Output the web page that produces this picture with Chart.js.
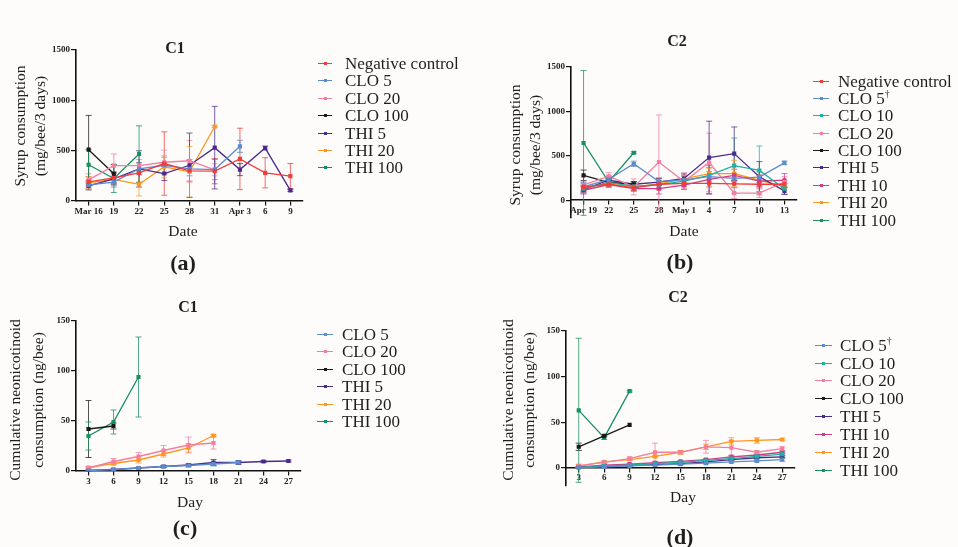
<!DOCTYPE html>
<html>
<head>
<meta charset="utf-8">
<script src="https://cdn.jsdelivr.net/npm/chart.js@4"></script>
<style>
  html, body { margin: 0; padding: 0; background: #fdfcfb; }
  #page { position: relative; width: 958px; height: 547px; overflow: hidden; font-family: "Liberation Serif", serif; color: #1e1e1e; }
  #page canvas { position: absolute; left: 0; top: 0; }
  .t { position: absolute; transform: translate(-50%, -50%); white-space: nowrap; line-height: 1; }
  .yt { position: absolute; transform: translate(-50%, -50%) rotate(-90deg); white-space: nowrap; font-size: 15.5px; line-height: 1; }
  .title { font-weight: bold; font-size: 16px; }
  .axis { font-size: 15.5px; }
  .tag { font-weight: bold; font-size: 22px; }
  .lg-row { position: absolute; height: 0; white-space: nowrap; }
  .lg-line { position: absolute; top: -1px; height: 1px; }
  .lg-dot { position: absolute; top: -2px; width: 3px; height: 3px; }
  .lg-text { position: absolute; top: -9px; font-size: 17px; line-height: 17px; }
  .lg-text sup { font-size: 10px; vertical-align: 0; position: relative; top: -7px; }
</style>
</head>
<body>
<div id="page">
  <canvas id="chartA" width="958" height="547"></canvas>
  <canvas id="chartB" width="958" height="547"></canvas>
  <canvas id="chartC" width="958" height="547"></canvas>
  <canvas id="chartD" width="958" height="547"></canvas>

  <div class="t title" style="left:175px; top:48px;">C1</div>
  <div class="yt" style="left:20px; top:126px;">Syrup consumption</div>
  <div class="yt" style="left:40px; top:126px;">(mg/bee/3 days)</div>
  <div class="t axis" style="left:183px; top:231px;">Date</div>
  <div class="t tag" style="left:183px; top:263px;">(a)</div>

  <div class="t title" style="left:677px; top:41px;">C2</div>
  <div class="yt" style="left:515px; top:145px;">Syrup consumption</div>
  <div class="yt" style="left:535px; top:145px;">(mg/bee/3 days)</div>
  <div class="t axis" style="left:684px; top:231px;">Date</div>
  <div class="t tag" style="left:680px; top:262px;">(b)</div>

  <div class="t title" style="left:188px; top:307px;">C1</div>
  <div class="yt" style="left:15px; top:400px;">Cumulative neonicotinoid</div>
  <div class="yt" style="left:38px; top:400px;">consumption (ng/bee)</div>
  <div class="t axis" style="left:190px; top:502px;">Day</div>
  <div class="t tag" style="left:185px; top:528px;">(c)</div>

  <div class="t title" style="left:678px; top:297px;">C2</div>
  <div class="yt" style="left:508px; top:400px;">Cumulative neonicotinoid</div>
  <div class="yt" style="left:529px; top:400px;">consumption (ng/bee)</div>
  <div class="t axis" style="left:683px; top:497px;">Day</div>
  <div class="t tag" style="left:680px; top:537px;">(d)</div>
</div>
<script>
// x categories and y ticks
const datesC1 = ['Mar 16', '19', '22', '25', '28', '31', 'Apr 3', '6', '9'];
const datesC2 = ['Apr 19', '22', '25', '28', 'May 1', '4', '7', '10', '13'];
const dayLabels = ['3', '6', '9', '12', '15', '18', '21', '24', '27'];
const syrupTicks = [0, 500, 1000, 1500];
const cumulTicks = [0, 50, 100, 150];

// C1 syrup consumption (mg/bee/3 days), mean and sd
const syrupC1Neg = [190, 230, 280, 372, 300, 296, 418, 280, 247];
const syrupC1NegSd = [50, 60, 100, 315, 110, 125, 305, 150, 125];
const syrupC1Clo5 = [160, 188, 320, 355, 320, 312, 543];
const syrupC1Clo5Sd = [40, 50, 60, 80, 70, 100, 60];
const syrupC1Clo20 = [210, 352, 352, 385, 400, 310];
const syrupC1Clo20Sd = [60, 115, 60, 120, 200, 60];
const syrupC1Clo100 = [510, 270];
const syrupC1Clo100Sd = [340, 90];
const syrupC1Thi5 = [150, 220, 319, 273, 355, 530, 312, 526, 105];
const syrupC1Thi5Sd = [40, 60, 180, 70, 320, 410, 60, 20, 10];
const syrupC1Thi20 = [180, 214, 165, 340, 290, 740];
const syrupC1Thi20Sd = [60, 60, 115, 110, 250, 10];
const syrupC1Thi100 = [360, 224, 467];
const syrupC1Thi100Sd = [150, 140, 280];

// C2 syrup consumption
const syrupC2Neg = [150, 180, 140, 180, 190, 190, 185, 180, 180];
const syrupC2NegSd = [40, 30, 30, 40, 40, 40, 40, 40, 40];
const syrupC2Clo5 = [150, 235, 410, 210, 230, 265, 245, 260, 420];
const syrupC2Clo5Sd = [50, 40, 30, 40, 50, 60, 60, 60, 20];
const syrupC2Clo10 = [130, 200, 155, 175, 215, 280, 390, 335, 130];
const syrupC2Clo10Sd = [40, 40, 40, 50, 50, 90, 310, 275, 60];
const syrupC2Clo20 = [170, 270, 150, 430, 210, 425, 80, 80, 205];
const syrupC2Clo20Sd = [50, 40, 90, 530, 80, 330, 60, 50, 60];
const syrupC2Clo100 = [280, 200, 180];
const syrupC2Clo100Sd = [60, 30, 30];
const syrupC2Thi5 = [120, 225, 180, 205, 245, 480, 525, 265, 105];
const syrupC2Thi5Sd = [40, 40, 30, 40, 60, 410, 300, 170, 40];
const syrupC2Thi10 = [110, 175, 130, 130, 170, 235, 280, 215, 225];
const syrupC2Thi10Sd = [40, 30, 30, 60, 50, 160, 70, 60, 75];
const syrupC2Thi20 = [115, 180, 150, 185, 240, 300, 300, 225, 155];
const syrupC2Thi20Sd = [40, 30, 40, 70, 40, 60, 150, 60, 40];
const syrupC2Thi100 = [645, 205, 535];
const syrupC2Thi100Sd = [815, 40, 10];

// C1 cumulative neonicotinoid (ng/bee)
const cumC1Clo5 = [0.5, 1.3, 3, 4.5, 5.5, 7, 8.5];
const cumC1Clo5Sd = [0.3, 0.5, 0.5, 1, 1.5, 2, 2];
const cumC1Clo20 = [3, 9.5, 14.5, 20.5, 26, 28];
const cumC1Clo20Sd = [1, 3, 4, 5, 8, 6];
const cumC1Clo100 = [42, 45];
const cumC1Clo100Sd = [28.5, 3];
const cumC1Thi5 = [0.5, 1.5, 3, 4.5, 6, 8.5, 8.5, 9.5, 10];
const cumC1Thi5Sd = [0.5, 0.5, 0.5, 1, 1, 3, 1.5, 1, 1];
const cumC1Thi20 = [3.5, 7.5, 11, 17, 23, 35.5];
const cumC1Thi20Sd = [1, 1.5, 3, 3, 4, 1];
const cumC1Thi100 = [35, 49, 94];
const cumC1Thi100Sd = [14, 12, 40];

// C2 cumulative neonicotinoid
const cumC2Clo5 = [0.3, 1, 2, 3, 4, 5, 6.5, 7.5, 9];
const cumC2Clo5Sd = [0.3, 0.5, 0.5, 1, 1, 1, 1, 1, 2];
const cumC2Clo10 = [0.5, 2, 3, 4.5, 6, 8, 10, 12.5, 15];
const cumC2Clo10Sd = [0.3, 0.5, 0.5, 1, 1, 1, 1, 1, 1];
const cumC2Clo20 = [2, 6, 10, 17, 17, 23, 22, 17, 21];
const cumC2Clo20Sd = [1, 1, 2, 10, 2, 7, 8, 2, 2];
const cumC2Clo100 = [23, 35, 47];
const cumC2Clo100Sd = [4, 1, 0];
const cumC2Thi5 = [0.5, 1.5, 2.5, 3.5, 4.5, 6.5, 9, 11, 12];
const cumC2Thi5Sd = [0.3, 0.5, 0.5, 1, 1, 1, 1, 1, 1];
const cumC2Thi10 = [1, 3, 4, 5.5, 7, 9, 12, 14, 17];
const cumC2Thi10Sd = [0.5, 0.5, 0.5, 1, 1, 1, 1, 1, 1];
const cumC2Thi20 = [2, 6.5, 9, 12.5, 17, 23, 29, 30, 31];
const cumC2Thi20Sd = [2, 1, 1, 1, 2, 3, 4, 3, 1];
const cumC2Thi100 = [63, 33, 84];
const cumC2Thi100Sd = [79, 2, 1];

const colors = {
  neg: '#f23b3b',
  clo5: '#5b8ccc',
  clo10: '#1fb0a0',
  clo20: '#f47ea0',
  clo100: '#1a1a1a',
  thi5: '#4a2b8c',
  thi10: '#cc3d8a',
  thi20: '#ff961e',
  thi100: '#16915c'
};

const Y_W = 30;
const tickFont = { family: 'Liberation Serif', size: 9, weight: 'bold' };

// vertical sd bars with caps, drawn under the lines
const errorBars = {
  id: 'errorBars',
  beforeDatasetsDraw(chart) {
    const ctx = chart.ctx;
    const y = chart.scales.y;
    chart.data.datasets.forEach((ds, i) => {
      if (!ds.errors) return;
      const meta = chart.getDatasetMeta(i);
      ctx.save();
      ctx.strokeStyle = ds.borderColor;
      ctx.globalAlpha = 0.75;
      ctx.lineWidth = 1;
      meta.data.forEach((pt, j) => {
        const e = ds.errors[j];
        if (!e) return;
        const top = y.getPixelForValue(ds.data[j] + e);
        const bot = y.getPixelForValue(ds.data[j] - e);
        ctx.beginPath();
        ctx.moveTo(pt.x, top); ctx.lineTo(pt.x, bot);
        ctx.moveTo(pt.x - 3, top); ctx.lineTo(pt.x + 3, top);
        ctx.moveTo(pt.x - 3, bot); ctx.lineTo(pt.x + 3, bot);
        ctx.stroke();
      });
      ctx.restore();
    });
  }
};

function series(label, color, data, errors) {
  return {
    label, data, errors,
    borderColor: color, backgroundColor: color,
    borderWidth: 1.3, pointRadius: 2, pointStyle: 'rect', tension: 0
  };
}

function makePanel(id, area, labels, yMin, yMax, yTicks, datasets) {
  return new Chart(document.getElementById(id), {
    type: 'line',
    data: { labels, datasets },
    options: {
      responsive: false,
      animation: false,
      events: [],
      layout: { padding: { left: area.left - Y_W, top: area.top, right: 958 - area.right, bottom: 547 - area.bottom } },
      plugins: { legend: { display: false }, tooltip: { enabled: false } },
      scales: {
        x: {
          type: 'category',
          offset: true,
          position: { y: 0 },
          grid: { offset: false, drawOnChartArea: false, tickLength: 4, color: '#111', lineWidth: 1.2 },
          border: { color: '#111', width: 1.6 },
          ticks: { font: tickFont, color: '#222', padding: 1, maxRotation: 0, autoSkip: false }
        },
        y: {
          min: yMin, max: yMax,
          position: 'left',
          afterFit(s) { s.width = Y_W; },
          afterBuildTicks(s) { s.ticks = yTicks.map(v => ({ value: v })); },
          grid: { drawOnChartArea: false, tickLength: 5, color: '#111', lineWidth: 1.2 },
          border: { color: '#111', width: 1.6 },
          ticks: { font: tickFont, color: '#222', padding: 1, callback: v => String(v) }
        }
      }
    },
    plugins: [errorBars]
  });
}

function makeLegend(datasets, lineX, lineW, textX, y0, step) {
  const page = document.getElementById('page');
  datasets.forEach((ds, i) => {
    const row = document.createElement('div');
    row.className = 'lg-row';
    row.style.left = '0px';
    row.style.top = Math.round(y0 + i * step) + 'px';
    const name = ds.label.replace('†', '<sup>†</sup>');
    row.innerHTML =
      `<div class="lg-line" style="left:${lineX}px; width:${lineW}px; background:${ds.borderColor};"></div>` +
      `<div class="lg-dot" style="left:${Math.round(lineX + lineW / 2 - 1.5)}px; background:${ds.borderColor};"></div>` +
      `<div class="lg-text" style="left:${textX}px;">${name}</div>`;
    page.appendChild(row);
  });
}

const setsA = [
  series('Negative control', colors.neg, syrupC1Neg, syrupC1NegSd),
  series('CLO 5', colors.clo5, syrupC1Clo5, syrupC1Clo5Sd),
  series('CLO 20', colors.clo20, syrupC1Clo20, syrupC1Clo20Sd),
  series('CLO 100', colors.clo100, syrupC1Clo100, syrupC1Clo100Sd),
  series('THI 5', colors.thi5, syrupC1Thi5, syrupC1Thi5Sd),
  series('THI 20', colors.thi20, syrupC1Thi20, syrupC1Thi20Sd),
  series('THI 100', colors.thi100, syrupC1Thi100, syrupC1Thi100Sd)
];

const setsB = [
  series('Negative control', colors.neg, syrupC2Neg, syrupC2NegSd),
  series('CLO 5†', colors.clo5, syrupC2Clo5, syrupC2Clo5Sd),
  series('CLO 10', colors.clo10, syrupC2Clo10, syrupC2Clo10Sd),
  series('CLO 20', colors.clo20, syrupC2Clo20, syrupC2Clo20Sd),
  series('CLO 100', colors.clo100, syrupC2Clo100, syrupC2Clo100Sd),
  series('THI 5', colors.thi5, syrupC2Thi5, syrupC2Thi5Sd),
  series('THI 10', colors.thi10, syrupC2Thi10, syrupC2Thi10Sd),
  series('THI 20', colors.thi20, syrupC2Thi20, syrupC2Thi20Sd),
  series('THI 100', colors.thi100, syrupC2Thi100, syrupC2Thi100Sd)
];

const setsC = [
  series('CLO 5', colors.clo5, cumC1Clo5, cumC1Clo5Sd),
  series('CLO 20', colors.clo20, cumC1Clo20, cumC1Clo20Sd),
  series('CLO 100', colors.clo100, cumC1Clo100, cumC1Clo100Sd),
  series('THI 5', colors.thi5, cumC1Thi5, cumC1Thi5Sd),
  series('THI 20', colors.thi20, cumC1Thi20, cumC1Thi20Sd),
  series('THI 100', colors.thi100, cumC1Thi100, cumC1Thi100Sd)
];

const setsD = [
  series('CLO 5†', colors.clo5, cumC2Clo5, cumC2Clo5Sd),
  series('CLO 10', colors.clo10, cumC2Clo10, cumC2Clo10Sd),
  series('CLO 20', colors.clo20, cumC2Clo20, cumC2Clo20Sd),
  series('CLO 100', colors.clo100, cumC2Clo100, cumC2Clo100Sd),
  series('THI 5', colors.thi5, cumC2Thi5, cumC2Thi5Sd),
  series('THI 10', colors.thi10, cumC2Thi10, cumC2Thi10Sd),
  series('THI 20', colors.thi20, cumC2Thi20, cumC2Thi20Sd),
  series('THI 100', colors.thi100, cumC2Thi100, cumC2Thi100Sd)
];

makePanel('chartA', { left: 76, top: 50, right: 303, bottom: 201 }, datesC1, 0, 1500, syrupTicks, setsA);
makePanel('chartB', { left: 571, top: 67, right: 797, bottom: 218 }, datesC2, -200, 1500, syrupTicks, setsB);
makePanel('chartC', { left: 76, top: 321, right: 301, bottom: 471 }, dayLabels, 0, 150, cumulTicks, setsC);
makePanel('chartD', { left: 566, top: 331, right: 795, bottom: 486 }, dayLabels, -20, 150, cumulTicks, setsD);

makeLegend(setsA, 318, 14, 345, 64, 17.4);
makeLegend(setsB, 813, 16, 838, 81.7, 17.35);
makeLegend(setsC, 317, 16, 342, 335, 17.4);
makeLegend(setsD, 815, 17, 840, 345.7, 17.85);
</script>
</body>
</html>
